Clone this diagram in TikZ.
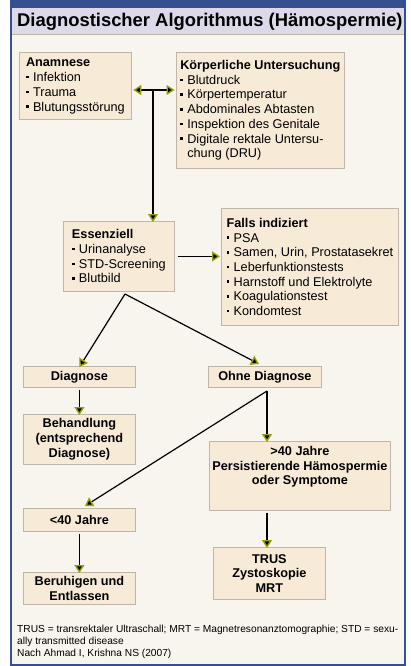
\documentclass[tikz,border=0pt]{standalone}
\usepackage{fontspec}
\setmainfont{Liberation Sans}
\usetikzlibrary{arrows.meta}
\definecolor{frameblue}{RGB}{52,80,143}
\definecolor{titlebg}{RGB}{220,217,232}
\definecolor{bgcream}{RGB}{248,244,238}
\definecolor{boxfill}{RGB}{247,235,216}
\definecolor{boxdraw}{RGB}{190,182,170}
\definecolor{arrowol}{RGB}{150,160,0}
\newcommand{\bul}{\makebox[7pt][l]{\rule[0.25em]{2.6pt}{2.6pt}}}
\tikzset{
  box/.style={draw=boxdraw, fill=boxfill, line width=0.8pt, anchor=north west,
    inner xsep=3pt, inner ysep=3pt, font=\fontsize{12.7}{14.7}\selectfont},
  listbox/.style={box, align=left},
  ctrbox/.style={box, align=center, font=\fontsize{12.7}{14.7}\selectfont\bfseries},
  link/.style={line width=1.2pt, black},
  tipstyle/.style={},
  arr/.style={link, -{Triangle[length=8pt,width=10pt,fill=black,color=arrowol,line width=1.4pt]}},
  darr/.style={link, {Triangle[length=8pt,width=10pt,fill=black,color=arrowol,line width=1.4pt]}-{Triangle[length=8pt,width=10pt,fill=black,color=arrowol,line width=1.4pt]}},
}
\begin{document}
\begin{tikzpicture}[x=1pt,y=-1pt]
\useasboundingbox (0,0) rectangle (410,666);
% frame
\fill[white] (0,0) rectangle (410,666);
\fill[frameblue] (10,0) rectangle (406,666);
\fill[bgcream] (12,8) rectangle (404,664);
\fill[titlebg] (12,8) rectangle (404,34);
\draw[boxdraw, line width=0.6pt] (12,34) -- (404,34);
\node[anchor=west, inner sep=0pt, font=\fontsize{18.4}{20}\selectfont\bfseries] (title) at (17,21.5) {Diagnostischer Algorithmus (Hämospermie)};
% boxes
\node[listbox, minimum width=112pt, minimum height=67pt] (anam) at (19,52)
  {\textbf{Anamnese}\\\bul Infektion\\\bul Trauma\\\bul Blutungsstörung};
\node[listbox, minimum width=168pt, minimum height=116pt] (koerp) at (176,52)
  {\textbf{Körperliche Untersuchung}\\\bul Blutdruck\\\bul Körpertemperatur\\\bul Abdominales Abtasten\\\bul Inspektion des Genitale\\\bul Digitale rektale Untersu-\\\hspace*{7pt}chung (DRU)};
\node[listbox, minimum width=111pt, minimum height=70pt] (ess) at (63,221)
  {\textbf{Essenziell}\\\bul Urinanalyse\\\bul STD-Screening\\\bul Blutbild};
\node[listbox, minimum width=177pt, minimum height=117pt] (falls) at (221,208)
  {\textbf{Falls indiziert}\\\bul PSA\\\bul Samen, Urin, Prostatasekret\\\bul Leberfunktionstests\\\bul Harnstoff und Elektrolyte\\\bul Koagulationstest\\\bul Kondomtest};
\node[ctrbox, minimum width=112pt, minimum height=21pt] (diag) at (23,366) {Diagnose};
\node[ctrbox, minimum width=113pt, minimum height=21pt] (ohne) at (208,366) {Ohne Diagnose};
\node[ctrbox, minimum width=112pt, minimum height=50pt] (beh) at (23,414) {Behandlung\\(entsprechend\\Diagnose)};
\node[ctrbox, minimum width=174pt, minimum height=69pt] (gt40) at (209,441) {>40 Jahre\\Persistierende Hämospermie\\oder Symptome\\[6pt]\mbox{}};
\node[ctrbox, minimum width=112pt, minimum height=23pt] (lt40) at (23,508) {<40 Jahre};
\node[ctrbox, minimum width=112pt, minimum height=32pt] (ber) at (23,572) {Beruhigen und\\Entlassen};
\node[ctrbox, minimum width=112pt, minimum height=52pt] (trus) at (213,547) {TRUS\\Zystoskopie\\MRT};
% connectors
\coordinate (j) at (153,90);
\draw[darr] ([xshift=1.5pt]anam.east|-j) -- ([xshift=-1.5pt]koerp.west|-j);
\draw[arr] (j) -- ([yshift=-1pt]j|-ess.north);
\draw[arr] ([xshift=3pt]ess.east) -- ([xshift=-1pt]falls.west|-ess.east);
\coordinate (es) at (125,294);
\draw[arr] (es) -- ([yshift=-1pt]diag.north);
\draw[arr] (es) -- (259,364);
\draw[arr] ([yshift=-2pt]diag.south) -- ([yshift=-1pt]beh.north);
\coordinate (os) at (267,391);
\draw[arr] (os) -- ([yshift=-1pt]os|-gt40.north);
\draw[arr] (os) -- (85,506);
\draw[arr] ([yshift=-2pt]lt40.south) -- ([yshift=-1pt]lt40.south|-ber.north);
\draw[arr] ([yshift=-2pt]os|-gt40.south) -- ([yshift=-1pt]os|-trus.north);
% footnote
\node[anchor=north west, align=left, inner sep=0pt, font=\fontsize{10.2}{12}\selectfont] (note) at (17,625)
  {TRUS = transrektaler Ultraschall; MRT = Magnetresonanztomographie; STD = sexu-\\ally transmitted disease\\Nach Ahmad I, Krishna NS (2007)};
\end{tikzpicture}
\end{document}
